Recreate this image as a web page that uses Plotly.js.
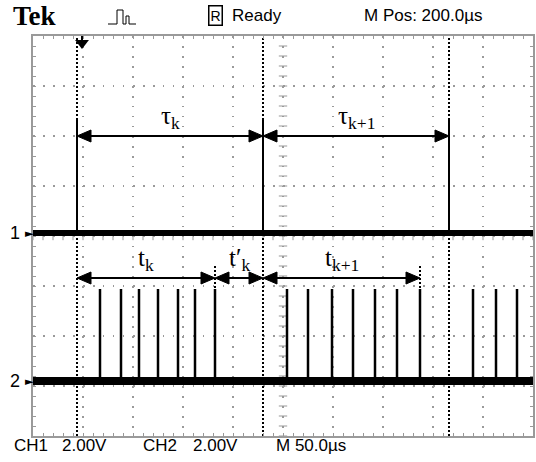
<!DOCTYPE html>
<html><head><meta charset="utf-8">
<script src="https://cdn.plot.ly/plotly-3.0.1.min.js"></script>
<style>html,body{margin:0;padding:0;background:#fff;overflow:hidden;} #chart{width:536px;height:462px;}</style>
</head><body><div id="chart"></div>
<script>
// Time axis in µs (50 µs/div), voltage axis in V (2 V/div), screen centre = 0 V
const ch1PulseTimes = [44, 230, 416];
const ch2PulseTimes = [67, 88, 106, 125, 145, 162, 182, 254, 275, 299, 320, 342, 364, 387, 440, 463, 484];
const ch1Base = 0.12, ch1Top = 4.72;
const ch2Base = -5.8, ch2Top = -2.12;
const cursorTimes = [44, 230, 416];
const subCursorTimes = [182, 387];
const intervalStart = [44, 230, 44, 182, 230];
const intervalEnd = [230, 416, 182, 230, 387];
const intervalLevel = [4.0, 4.0, -1.68, -1.68, -1.68];
const intervalLabels = ['τ<sub>k</sub>', 'τ<sub>k+1</sub>', 't<sub>k</sub>', 't′<sub>k</sub>', 't<sub>k+1</sub>'];
const triggerTime = 49;
const channelNames = ['1', '2'];
const headerLabels = ['Tek', 'R', 'Ready', 'M Pos: 200.0µs'];
const footerLabels = ['CH1', '2.00V', 'CH2', '2.00V', 'M 50.0µs'];

const X0 = 0, X1 = 500, Y0 = -8, Y1 = 8;
const W = 536, H = 462, ML = 33, MR = 3, MT = 36, MB = 26;
const pw = W - ML - MR, ph = H - MT - MB;
const pxX = (p) => (p - ML) / pw;          // pixel -> paper x
const pxY = (p) => (H - MB - p) / ph;      // pixel -> paper y
const usPerPx = (X1 - X0) / pw, vPerPx = (Y1 - Y0) / ph;

const traces = [];
// centre-line graticule ticks
const cx = [], cy = [], hx = [], hy = [];
for (let v = Y0; v <= Y1 + 1e-9; v += 0.4) { cx.push((X0 + X1) / 2); cy.push(v); }
for (let t = X0; t <= X1 + 1e-9; t += 10) { hx.push(t); hy.push(0); }
traces.push({x: cx, y: cy, mode: 'markers', marker: {symbol: 'line-ew', size: 6, line: {width: 1, color: '#999'}}, hoverinfo: 'skip'});
traces.push({x: hx, y: hy, mode: 'markers', marker: {symbol: 'line-ns', size: 6, line: {width: 1, color: '#999'}}, hoverinfo: 'skip'});

function vlines(times, ya, yb) {
  const x = [], y = [];
  times.forEach(t => { x.push(t, t, null); y.push(ya, yb, null); });
  return {x, y};
}
// cursors
const cur = vlines(cursorTimes, Y0, Y1);
traces.push({x: cur.x, y: cur.y, mode: 'lines', line: {color: '#000', width: 2, dash: '2px,2px'}, hoverinfo: 'skip'});
const sub = vlines(subCursorTimes, intervalLevel[2] + 12 * vPerPx, ch2Top);
traces.push({x: sub.x, y: sub.y, mode: 'lines', line: {color: '#000', width: 2, dash: '2px,2px'}, hoverinfo: 'skip'});

// channel traces
traces.push({x: [X0, X1], y: [ch1Base, ch1Base], mode: 'lines', line: {color: '#000', width: 6}, hoverinfo: 'skip'});
const p1 = vlines(ch1PulseTimes, ch1Base, ch1Top);
traces.push({x: p1.x, y: p1.y, mode: 'lines', line: {color: '#000', width: 2}, hoverinfo: 'skip'});
traces.push({x: [X0, X1], y: [ch2Base, ch2Base], mode: 'lines', line: {color: '#000', width: 8}, hoverinfo: 'skip'});
const p2 = vlines(ch2PulseTimes, ch2Base, ch2Top);
traces.push({x: p2.x, y: p2.y, mode: 'lines', line: {color: '#000', width: 2.5}, hoverinfo: 'skip'});

// interval arrows
const headLen = 14 * usPerPx, headHalf = 6 * vPerPx;
const annotations = [];
const serif = 'Liberation Serif, Times New Roman, serif';
const sans = 'Liberation Sans, Arial, sans-serif';
intervalStart.forEach((s, i) => {
  const e = intervalEnd[i], lv = intervalLevel[i];
  traces.push({x: [s + headLen * 0.5, e - headLen * 0.5], y: [lv, lv], mode: 'lines', line: {color: '#000', width: 2}, hoverinfo: 'skip'});
  traces.push({x: [s, s + headLen, s + headLen, s], y: [lv, lv + headHalf, lv - headHalf, lv], mode: 'lines', fill: 'toself', fillcolor: '#000', line: {color: '#000', width: 1}, hoverinfo: 'skip'});
  traces.push({x: [e, e - headLen, e - headLen, e], y: [lv, lv + headHalf, lv - headHalf, lv], mode: 'lines', fill: 'toself', fillcolor: '#000', line: {color: '#000', width: 1}, hoverinfo: 'skip'});
  annotations.push({x: (s + e) / 2, y: lv, xref: 'x', yref: 'y', text: intervalLabels[i], showarrow: false,
    yanchor: 'bottom', yshift: 1, font: {family: serif, size: 25, color: '#000'}});
});

// trigger marker
traces.push({x: [triggerTime, triggerTime], y: [Y1, Y1 - 6 * vPerPx], mode: 'lines', line: {color: '#000', width: 2}, hoverinfo: 'skip'});
traces.push({x: [triggerTime], y: [Y1 - 7 * vPerPx], mode: 'markers', marker: {symbol: 'triangle-down', size: 12, color: '#000'}, cliponaxis: false, hoverinfo: 'skip'});

// channel ground markers
[ch1Base, ch2Base].forEach((lv, i) => {
  annotations.push({xref: 'paper', yref: 'y', x: pxX(21), y: lv, xanchor: 'right', text: channelNames[i], showarrow: false,
    borderpad: 0, font: {family: sans, size: 18, color: '#000'}});
  annotations.push({xref: 'paper', yref: 'y', x: pxX(24), y: lv, xanchor: 'left', text: '►', showarrow: false,
    borderpad: 0, font: {family: 'DejaVu Sans, sans-serif', size: 11, color: '#000'}});
});

function txt(label, px, py, size, family, extra) {
  return Object.assign({xref: 'paper', yref: 'paper', x: pxX(px), y: pxY(py), xanchor: 'left', yanchor: 'middle',
    text: label, showarrow: false, font: {family: family || sans, size: size, color: '#000'}}, extra || {});
}
// header
annotations.push(txt('<b>' + headerLabels[0] + '</b>', 11, 16, 27, serif));
annotations.push(txt(headerLabels[1], 208, 16, 14, sans, {bordercolor: '#000', borderwidth: 1.5, borderpad: 1}));
annotations.push(txt(headerLabels[2], 230, 16, 17));
annotations.push(txt(headerLabels[3], 362, 16, 17));
// footer
const footX = [12, 60, 141, 191, 274];
footerLabels.forEach((l, i) => annotations.push(txt(l, footX[i], 446, 17)));

// acquisition icon
const iconPts = [[108,24],[117,24],[117,10],[123,10],[123,24],[126,24],[126,16],[129,16],[129,24],[136,24]];
const iconPath = 'M' + iconPts.map(p => pxX(p[0]).toFixed(5) + ',' + pxY(p[1]).toFixed(5)).join('L');

const axisCommon = {showgrid: true, gridcolor: '#9a9a9a', gridwidth: 1.5, griddash: '1.5px,8.5px', zeroline: false,
  showticklabels: false, ticks: 'inside', ticklen: 3, tickcolor: '#999', tickwidth: 1,
  showline: true, linecolor: '#9a9a9a', linewidth: 2, mirror: 'allticks', fixedrange: true};

const layout = {
  width: W, height: H, margin: {l: ML, r: MR, t: MT, b: MB}, showlegend: false,
  paper_bgcolor: '#fff', plot_bgcolor: '#fff',
  xaxis: Object.assign({}, axisCommon, {range: [X0, X1], tick0: 0, dtick: 50, minor: {dtick: 10, ticks: 'inside', ticklen: 3, tickcolor: '#999', showgrid: false}}),
  yaxis: Object.assign({}, axisCommon, {range: [Y0, Y1], tick0: 0, dtick: 2, minor: {dtick: 0.4, ticks: 'inside', ticklen: 3, tickcolor: '#999', showgrid: false}}),
  annotations: annotations,
  shapes: [{type: 'path', xref: 'paper', yref: 'paper', path: iconPath, line: {color: '#000', width: 1}}]
};
Plotly.newPlot('chart', traces, layout, {staticPlot: true, displayModeBar: false});
</script></body></html>
